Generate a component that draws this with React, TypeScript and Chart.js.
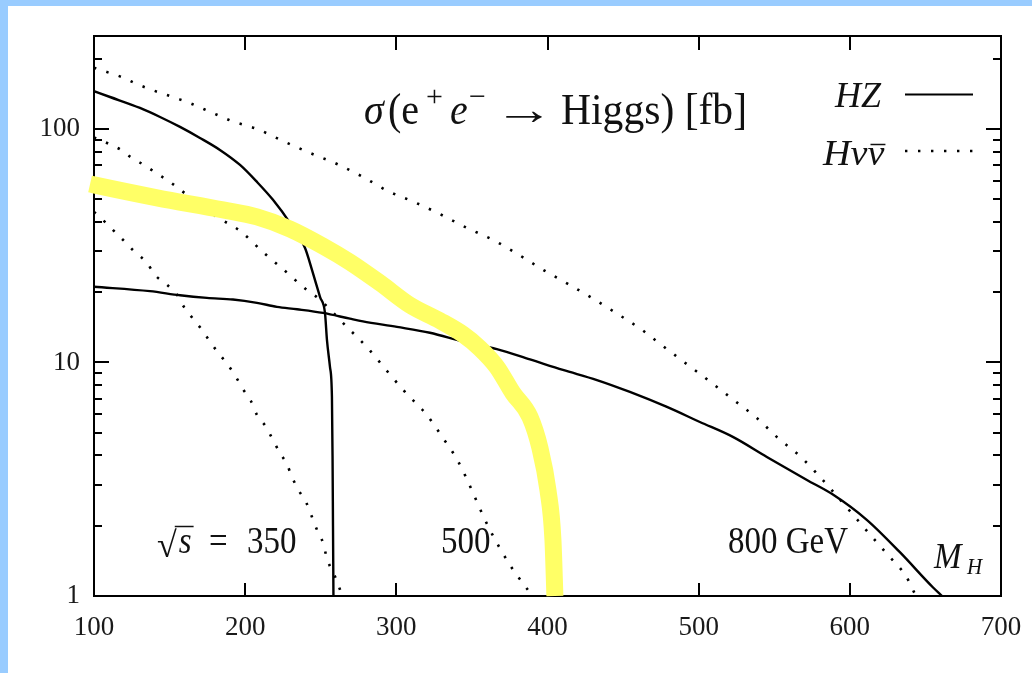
import React, { useEffect, useRef } from 'react';
import { Chart, registerables } from 'chart.js';

Chart.register(...registerables);

// ---------- data ----------
const X_MIN = 100;
const X_MAX = 700;
const Y_MIN = 1;
const Y_MAX = 250;
const X_TICKS = [100, 200, 300, 400, 500, 600, 700];
const Y_TICKS = [1, 2, 3, 4, 5, 6, 7, 8, 9, 10, 20, 30, 40, 50, 60, 70, 80, 90, 100, 200];
const Y_LABELED = [1, 10, 100];

// HZ at sqrt(s) = 350 GeV (solid)
const HZ350_MH = [100, 110.6, 130.4, 143.7, 156.9, 170.1, 183.3, 196.6, 207.8, 218.4, 229.6, 239.6, 244.2, 249.5, 252.8, 254.1, 256.1, 257.4, 257.8, 258.1, 258.4];
const HZ350_SIGMA = [145, 137, 123, 112.5, 102, 91.5, 81.3, 70.1, 59.3, 49.7, 39.6, 30.9, 24.9, 19.1, 16.3, 12.5, 9.57, 7.11, 4, 2, 1];

// HZ at sqrt(s) = 800 GeV (solid)
const HZ800_MH = [100, 137.0, 156.9, 174.7, 191.9, 207.8, 221.0, 234.3, 251.5, 269.3, 277.9, 300.4, 322.2, 344.0, 366.5, 388.4, 410.2, 432.7, 454.5, 479.0, 500.8, 522.6, 545.1, 571.6, 588.8, 611.2, 633.1, 654.9, 661];
const HZ800_SIGMA = [21.1, 20.2, 19.4, 18.9, 18.6, 18.0, 17.3, 16.9, 16.3, 15.4, 15.0, 14.2, 13.4, 12.3, 11.4, 10.3, 9.29, 8.41, 7.48, 6.45, 5.56, 4.80, 3.94, 3.14, 2.72, 2.12, 1.54, 1.09, 1.0];

// H nu nubar at sqrt(s) = 800 GeV (dotted)
const HNN800_MH = [100, 109.9, 119.2, 127.1, 137.0, 146.3, 154.9, 163.5, 172.1, 181.3, 191.3, 207.8, 225.0, 242.9, 260.7, 277.9, 294.4, 311.6, 328.8, 346.7, 363.9, 381.1, 396.3, 413.5, 429.4, 446.6, 462.4, 478.3, 492.9, 508.7, 523.3, 538.5, 552.4, 567.6, 586.8, 611.9, 625.1, 637.0, 643.7];
const HNN800_SIGMA = [183, 174, 166, 157, 148, 141, 135, 129, 122, 115, 108, 100, 88.8, 78.9, 70.8, 62.3, 54.2, 48.7, 43.2, 37.7, 33.5, 28.9, 25.1, 21.7, 18.9, 16.1, 13.8, 11.5, 9.76, 8.17, 6.90, 5.78, 4.75, 3.94, 2.90, 1.88, 1.50, 1.22, 1.0];

// H nu nubar at sqrt(s) = 500 GeV (dotted)
const HNN500_MH = [100, 109.9, 117.9, 125.1, 133.1, 141.0, 150.3, 158.2, 181.3, 196.6, 211.8, 225.0, 240.9, 248.1, 267.3, 281.2, 294.4, 305.7, 320.2, 330.8, 340.7, 361.9, 375.1, 390.0];
const HNN500_SIGMA = [92, 86.3, 81.3, 75.1, 70.1, 64.8, 59.3, 54.2, 42.0, 36.6, 29.7, 25.1, 20.4, 18.9, 14.2, 11.5, 9.10, 7.48, 5.96, 4.75, 3.79, 1.92, 1.36, 1.0];

// H nu nubar at sqrt(s) = 350 GeV (dotted)
const HNN350_MH = [100, 107.9, 113.9, 121.2, 127.1, 135.1, 140.3, 147.6, 154.9, 159.5, 165.5, 171.4, 177.4, 182.7, 188.6, 193.9, 198.5, 203.8, 207.8, 213.8, 217.7, 223.0, 227.6, 231.0, 235.6, 240.2, 244.2, 248.1, 251.5, 254.1, 261.4, 264.0];
const HNN350_SIGMA = [44.1, 39.6, 36.2, 32.5, 29.7, 26.7, 23.7, 21.7, 19.5, 17.3, 15.4, 13.8, 12.1, 10.9, 9.76, 8.67, 7.70, 6.84, 5.96, 5.30, 4.75, 4.10, 3.67, 3.23, 2.82, 2.53, 2.18, 1.88, 1.69, 1.45, 1.13, 1.0];

// Highlighted HZ at sqrt(s) = 500 GeV (thick yellow)
const HZ500_MH = [97.4, 100, 141.7, 185.3, 207.8, 229.6, 251.5, 269.3, 289.2, 309.0, 328.8, 344.0, 355.3, 366.5, 377.1, 388.4, 395.0, 400.3, 403.6, 404.9];
const HZ500_SIGMA = [58.1, 57.6, 50.7, 45.0, 42.0, 37.3, 31.5, 26.9, 21.9, 17.6, 15.1, 13.2, 11.5, 9.57, 7.40, 5.84, 4.30, 2.84, 1.74, 1.0];

const TITLE_PARTS = ['σ', '(e', '+', 'e', '−', '→', 'Higgs) [fb]'];
const LEGEND_LABELS = ['HZ', 'Hνν'];
const ENERGY_LABELS = ['350', '500', '800 GeV'];
const AXIS_LABEL = ['M', 'H'];

const pts = (xs: number[], ys: number[]) => xs.map((x, i) => ({ x, y: ys[i] }));

const SERIF = '"Liberation Serif", "DejaVu Serif", serif';

function drawText(
  ctx: CanvasRenderingContext2D, s: string, x: number, y: number, size: number,
  italic = false, sy = 1, sx = 1, color = '#111'
) {
  ctx.save();
  ctx.font = `${italic ? 'italic ' : ''}${size}px ${SERIF}`;
  ctx.textAlign = 'left';
  ctx.textBaseline = 'alphabetic';
  ctx.fillStyle = color;
  ctx.translate(x, y);
  ctx.scale(sx, sy);
  ctx.fillText(s, 0, 0);
  const w = ctx.measureText(s).width * sx;
  ctx.restore();
  return w;
}

const decorPlugin = {
  id: 'decor',
  beforeDraw(chart: any) {
    const ctx = chart.ctx;
    ctx.save();
    ctx.fillStyle = '#99ccff';
    ctx.fillRect(0, 0, chart.width, chart.height);
    ctx.fillStyle = '#ffffff';
    ctx.fillRect(8, 6, chart.width - 8, chart.height - 6);
    ctx.restore();
  },
  beforeDatasetsDraw(chart: any) {
    const { ctx, chartArea: a, scales } = chart;
    ctx.save();
    ctx.strokeStyle = '#000';
    ctx.lineWidth = 2;
    ctx.strokeRect(a.left, a.top, a.right - a.left, a.bottom - a.top);
    ctx.beginPath();
    for (const t of scales.x.ticks) {
      const v = t.value;
      if (v <= X_MIN || v >= X_MAX) continue;
      const px = Math.round(scales.x.getPixelForValue(v));
      ctx.moveTo(px, a.bottom);
      ctx.lineTo(px, a.bottom - 13);
      ctx.moveTo(px, a.top);
      ctx.lineTo(px, a.top + 14);
    }
    for (const t of scales.y.ticks) {
      const v = t.value;
      if (v <= Y_MIN || v >= Y_MAX) continue;
      const py = Math.round(scales.y.getPixelForValue(v));
      const len = Y_LABELED.includes(v) ? 15 : 8;
      ctx.moveTo(a.left, py);
      ctx.lineTo(a.left + len, py);
      ctx.moveTo(a.right, py);
      ctx.lineTo(a.right - len, py);
    }
    ctx.stroke();
    ctx.restore();
  },
  afterDraw(chart: any) {
    const ctx: CanvasRenderingContext2D = chart.ctx;
    // title
    const tb = 124;
    drawText(ctx, TITLE_PARTS[0], 364, tb, 40, true, 1.1);
    drawText(ctx, TITLE_PARTS[1], 388, tb, 40, false, 1.1);
    drawText(ctx, TITLE_PARTS[2], 426, tb - 18, 30, false, 1.0);
    drawText(ctx, TITLE_PARTS[3], 450, tb, 40, true, 1.1);
    drawText(ctx, TITLE_PARTS[4], 469, tb - 18, 30, false, 1.0);
    drawText(ctx, TITLE_PARTS[5], 494, tb, 40, false, 1.1, 1.5);
    drawText(ctx, TITLE_PARTS[6], 561, tb, 40, false, 1.1, 1.04);

    // legend
    drawText(ctx, LEGEND_LABELS[0], 835, 107, 36, true);
    const w = drawText(ctx, LEGEND_LABELS[1], 823, 165, 36, true, 1, 1.06);
    ctx.save();
    ctx.font = `italic 36px ${SERIF}`;
    const wn = ctx.measureText('ν').width * 1.06;
    ctx.restore();
    ctx.save();
    ctx.strokeStyle = '#111';
    ctx.lineWidth = 1.5;
    ctx.beginPath();
    ctx.moveTo(823 + w - wn + 3, 144.5);
    ctx.lineTo(823 + w + 1, 144.5);
    ctx.stroke();
    ctx.strokeStyle = '#000';
    ctx.lineWidth = 2;
    ctx.beginPath();
    ctx.moveTo(905, 94.5);
    ctx.lineTo(973, 94.5);
    ctx.stroke();
    ctx.lineWidth = 2.4;
    ctx.setLineDash([2.4, 10.6]);
    ctx.beginPath();
    ctx.moveTo(905, 151);
    ctx.lineTo(977, 151);
    ctx.stroke();
    ctx.restore();

    // energy labels
    const eb = 553;
    const rw = drawText(ctx, '√', 157, eb + 4, 36, false, 1.0);
    const sw = drawText(ctx, 's', 157 + rw + 2, eb, 33, true, 1.15);
    ctx.save();
    ctx.strokeStyle = '#111';
    ctx.lineWidth = 1.5;
    ctx.beginPath();
    ctx.moveTo(157 + rw - 2, 526.5);
    ctx.lineTo(157 + rw + sw + 4, 526.5);
    ctx.stroke();
    ctx.restore();
    drawText(ctx, '=', 209, eb, 33, false, 1.15);
    drawText(ctx, ENERGY_LABELS[0], 247, eb, 33, false, 1.15);
    drawText(ctx, ENERGY_LABELS[1], 441, eb, 33, false, 1.15);
    drawText(ctx, ENERGY_LABELS[2], 728, eb, 33, false, 1.15);
    drawText(ctx, AXIS_LABEL[0], 934, 568, 33, true, 1.1);
    drawText(ctx, AXIS_LABEL[1], 967, 574, 21, true, 1.1);
  },
};

export default function App() {
  const ref = useRef<HTMLCanvasElement | null>(null);

  useEffect(() => {
    if (!ref.current) return;
    const dotted = { borderColor: '#000', borderWidth: 2.6, borderDash: [2.4, 10.6], borderCapStyle: 'butt' as const };
    const solid = { borderColor: '#000', borderWidth: 2.4 };
    const chart = new Chart(ref.current, {
      type: 'line',
      data: {
        datasets: [
          {
            label: 'HZ 500 (highlight)', data: pts(HZ500_MH, HZ500_SIGMA),
            borderColor: 'rgb(255,255,102)', borderWidth: 17, borderCapStyle: 'butt', borderJoinStyle: 'round',
            clip: false as any,
          },
          { label: 'HZ 350', data: pts(HZ350_MH, HZ350_SIGMA), ...solid },
          { label: 'HZ 800', data: pts(HZ800_MH, HZ800_SIGMA), ...solid },
          { label: 'Hνν 800', data: pts(HNN800_MH, HNN800_SIGMA), ...dotted },
          { label: 'Hνν 500', data: pts(HNN500_MH, HNN500_SIGMA), ...dotted },
          { label: 'Hνν 350', data: pts(HNN350_MH, HNN350_SIGMA), ...dotted },
        ] as any,
      },
      options: {
        responsive: false,
        animation: false,
        devicePixelRatio: 1,
        parsing: false as any,
        elements: {
          point: { radius: 0, hoverRadius: 0 },
          line: { cubicInterpolationMode: 'monotone', fill: false },
        },
        layout: { padding: { left: 0, top: 36, right: 31, bottom: 0 } },
        plugins: {
          legend: { display: false },
          tooltip: { enabled: false },
          title: { display: false },
        },
        scales: {
          x: {
            type: 'linear', min: X_MIN, max: X_MAX,
            afterBuildTicks: (s: any) => { s.ticks = X_TICKS.map((v) => ({ value: v })); },
            afterFit: (s: any) => { s.height = 77; s.paddingLeft = 0; s.paddingRight = 0; },
            grid: { display: false, drawTicks: false },
            border: { display: false },
            ticks: {
              autoSkip: false, maxRotation: 0, padding: 16, color: '#1a1a1a',
              font: { family: SERIF, size: 27 },
              callback: (v: any) => String(v),
            },
          },
          y: {
            type: 'logarithmic', min: Y_MIN, max: Y_MAX,
            afterBuildTicks: (s: any) => { s.ticks = Y_TICKS.map((v) => ({ value: v })); },
            afterFit: (s: any) => { s.width = 94; s.paddingTop = 0; s.paddingBottom = 0; },
            grid: { display: false, drawTicks: false },
            border: { display: false },
            ticks: {
              autoSkip: false, padding: 14, color: '#1a1a1a',
              font: { family: SERIF, size: 27 },
              callback: (v: any) => (Y_LABELED.includes(Number(v)) ? String(v) : ''),
            },
          },
        },
      } as any,
      plugins: [decorPlugin],
    });
    return () => chart.destroy();
  }, []);

  return (
    <div style={{ position: 'absolute', left: 0, top: 0, width: 1032, height: 673 }}>
      <canvas ref={ref} width={1032} height={673} style={{ display: 'block', width: 1032, height: 673 }} />
    </div>
  );
}
